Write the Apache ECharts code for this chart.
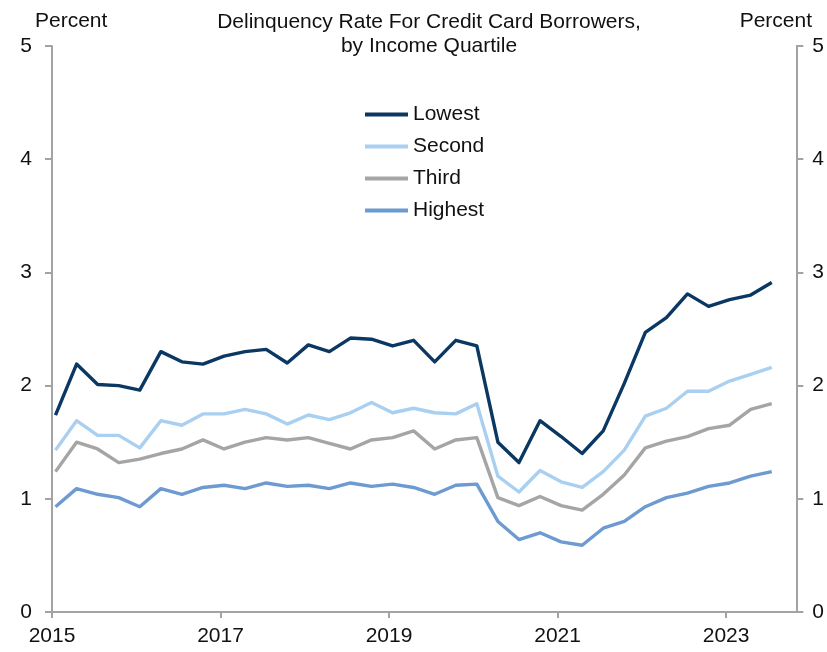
<!DOCTYPE html>
<html>
<head>
<meta charset="utf-8">
<title>Delinquency Rate For Credit Card Borrowers, by Income Quartile</title>
<script src="https://cdn.jsdelivr.net/npm/echarts@6/dist/echarts.min.js"></script>
<style>
  html, body { margin: 0; padding: 0; background: #ffffff; }
  #chart { width: 827px; height: 652px; }
</style>
</head>
<body>
<div id="chart"></div>
<script>
// Quarterly credit card delinquency rates (percent), 2015 Q1 – 2023 Q3
const startYear = 2015;
const quarters = [];
for (let y = 2015; y <= 2023; y++) {
  for (let q = 1; q <= 4; q++) {
    if (y === 2023 && q > 3) break;
    quarters.push(y + ' Q' + q);
  }
}

const lowest = [1.74, 2.19, 2.01, 2.00, 1.96, 2.30, 2.21, 2.19, 2.26, 2.30, 2.32, 2.20,
                2.36, 2.30, 2.42, 2.41, 2.35, 2.40, 2.21, 2.40, 2.35, 1.50, 1.32, 1.69,
                1.55, 1.40, 1.60, 2.02, 2.47, 2.60, 2.81, 2.70, 2.76, 2.80, 2.91];
const second = [1.43, 1.69, 1.56, 1.56, 1.45, 1.69, 1.65, 1.75, 1.75, 1.79, 1.75, 1.66,
                1.74, 1.70, 1.76, 1.85, 1.76, 1.80, 1.76, 1.75, 1.84, 1.20, 1.06, 1.25,
                1.15, 1.10, 1.24, 1.43, 1.73, 1.80, 1.95, 1.95, 2.04, 2.10, 2.16];
const third = [1.24, 1.50, 1.44, 1.32, 1.35, 1.40, 1.44, 1.52, 1.44, 1.50, 1.54, 1.52,
               1.54, 1.49, 1.44, 1.52, 1.54, 1.60, 1.44, 1.52, 1.54, 1.01, 0.94, 1.02,
               0.94, 0.90, 1.04, 1.21, 1.45, 1.51, 1.55, 1.62, 1.65, 1.79, 1.84];
const highest = [0.93, 1.09, 1.04, 1.01, 0.93, 1.09, 1.04, 1.10, 1.12, 1.09, 1.14, 1.11,
                 1.12, 1.09, 1.14, 1.11, 1.13, 1.10, 1.04, 1.12, 1.13, 0.80, 0.64, 0.70,
                 0.62, 0.59, 0.74, 0.80, 0.93, 1.01, 1.05, 1.11, 1.14, 1.20, 1.24];

const seriesNames = ['Lowest', 'Second', 'Third', 'Highest'];
const seriesValues = [lowest, second, third, highest];
const seriesColors = ['#0b3763', '#a9d0f1', '#a5a5a5', '#6d9ad1'];

const yTicks = [0, 1, 2, 3, 4, 5];
const xTickYears = [2015, 2017, 2019, 2021, 2023];

// x position in months since Jan 2015; each quarter is plotted at its first month
function monthOf(qIndex) { return qIndex * 3 + 0.5; }

const FONT = '"Liberation Sans", Arial, sans-serif';
const FONT_SIZE = 21;
const AXIS_COLOR = '#a3a3a3';
const TEXT_COLOR = '#111111';

const chart = echarts.init(document.getElementById('chart'), null, { renderer: 'canvas' });

const yAxisBase = {
  type: 'value',
  min: yTicks[0],
  max: yTicks[yTicks.length - 1],
  interval: 1,
  splitLine: { show: false },
  axisLine: { show: true, lineStyle: { color: AXIS_COLOR, width: 2 } },
  axisTick: { show: true, length: 7, lineStyle: { color: AXIS_COLOR, width: 2 } },
  axisLabel: { color: TEXT_COLOR, fontSize: FONT_SIZE, fontFamily: FONT }
};

chart.setOption({
  backgroundColor: '#ffffff',
  animation: false,
  title: {
    text: 'Delinquency Rate For Credit Card Borrowers,\nby Income Quartile',
    left: 424,
    top: 5,
    textAlign: 'center',
    textStyle: { color: TEXT_COLOR, fontSize: FONT_SIZE, fontWeight: 'normal', fontFamily: FONT, lineHeight: 24 }
  },
  graphic: [
    { type: 'text', left: 35, top: 11,
      style: { text: 'Percent', fill: TEXT_COLOR, font: FONT_SIZE + 'px ' + FONT } },
    { type: 'text', right: 15, top: 11,
      style: { text: 'Percent', fill: TEXT_COLOR, font: FONT_SIZE + 'px ' + FONT } }
  ],
  legend: {
    orient: 'vertical',
    left: 360,
    top: 99,
    itemWidth: 43,
    itemHeight: 4,
    itemGap: 11,
    icon: 'rect',
    data: seriesNames,
    textStyle: { color: TEXT_COLOR, fontSize: FONT_SIZE, fontFamily: FONT, lineHeight: 20 }
  },
  grid: { left: 52, right: 30, top: 46, bottom: 40, containLabel: false },
  xAxis: {
    type: 'value',
    min: 0,
    max: 106,
    interval: 24,
    splitLine: { show: false },
    axisLine: { show: true, lineStyle: { color: AXIS_COLOR, width: 2 } },
    axisTick: { show: true, length: 6, lineStyle: { color: AXIS_COLOR, width: 2 } },
    axisLabel: {
      color: TEXT_COLOR, fontSize: FONT_SIZE, fontFamily: FONT, margin: 14,
      showMaxLabel: false,
      formatter: function (v) {
        const y = startYear + v / 12;
        return xTickYears.indexOf(y) >= 0 ? String(y) : '';
      }
    }
  },
  yAxis: [
    Object.assign({}, yAxisBase, { position: 'left',
      axisLabel: Object.assign({}, yAxisBase.axisLabel, { margin: 20 }) }),
    Object.assign({}, yAxisBase, { position: 'right',
      axisLabel: Object.assign({}, yAxisBase.axisLabel, { margin: 16 }) })
  ],
  series: seriesNames.map(function (name, k) {
    return {
      name: name,
      type: 'line',
      yAxisIndex: 0,
      showSymbol: false,
      symbol: 'none',
      lineStyle: { color: seriesColors[k], width: 3.4, join: 'round' },
      itemStyle: { color: seriesColors[k] },
      z: 10 - k,
      data: seriesValues[k].map(function (v, i) { return [monthOf(i), v]; })
    };
  })
});
</script>
</body>
</html>
